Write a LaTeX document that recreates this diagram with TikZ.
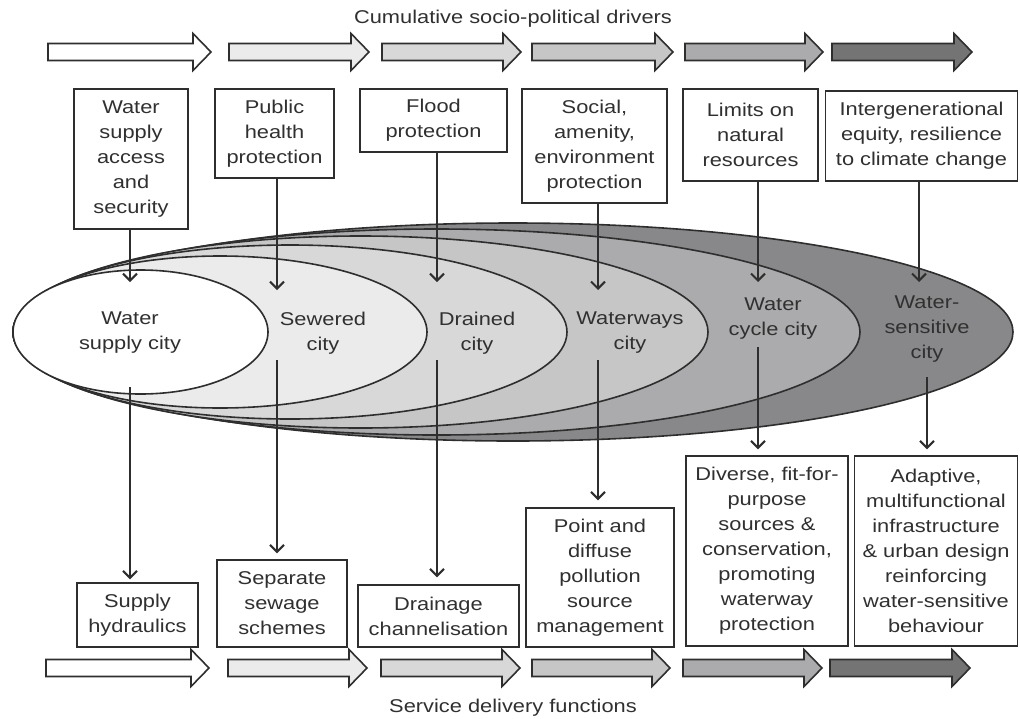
\documentclass[tikz,border=0pt]{standalone}
\usepackage{fontspec}
\setmainfont{Liberation Sans}[FakeStretch=1.18]
\usetikzlibrary{arrows.meta}

\definecolor{ink}{HTML}{2E2E2E}
\definecolor{txt}{HTML}{303030}
% stage shades, lightest to darkest
\definecolor{shA}{HTML}{FFFFFF}
\definecolor{shB}{HTML}{EBEBEB}
\definecolor{shC}{HTML}{D8D8D8}
\definecolor{shD}{HTML}{C6C6C6}
\definecolor{shE}{HTML}{ABABAD}
\definecolor{shF}{HTML}{88888A}
\definecolor{arF}{HTML}{747474}

% block arrow: x start, x tip, y centre, fill colour
\newcommand\flowarrow[4]{%
  \filldraw[blk, fill=#4] (#1,#3-8.5) -- (#2-18,#3-8.5) -- (#2-18,#3-18.5)
    -- (#2,#3) -- (#2-18,#3+18.5) -- (#2-18,#3+8.5) -- (#1,#3+8.5) -- cycle;}

\begin{document}
\begin{tikzpicture}[x=1pt, y=-1pt,
  font=\fontsize{18.5}{25}\selectfont,
  blk/.style={draw=ink, line width=1.6pt, line join=miter},
  box/.style={draw=ink, line width=1.4pt, fill=white, align=center,
    inner sep=0pt, text=txt},
  lbl/.style={align=center, inner sep=0pt, text=txt},
  city/.style={draw=ink, line width=1.6pt},
  conn/.style={draw=ink, line width=2pt,
    -{Straight Barb[length=7pt,width=14pt]}}]
\useasboundingbox (0,0) rectangle (1020,718);

% titles
\node[lbl, anchor=base] (drivers) at (513,23) {Cumulative socio-political drivers};
\node[lbl, anchor=base] (functions) at (513,712) {Service delivery functions};

% driver arrows (top row)
\flowarrow{48}{211}{52}{shA}
\flowarrow{229}{369}{52}{shB}
\flowarrow{382}{521}{52}{shC}
\flowarrow{532}{673}{52}{shD}
\flowarrow{685}{823}{52}{shE}
\flowarrow{832}{972}{52}{arF}

% function arrows (bottom row)
\flowarrow{46}{209}{668}{shA}
\flowarrow{228}{367}{668}{shB}
\flowarrow{381}{520}{668}{shC}
\flowarrow{532}{670}{668}{shD}
\flowarrow{683}{822}{668}{shE}
\flowarrow{830}{970}{668}{arF}

% nested city stages, outermost first
\filldraw[city, fill=shF] (513,332)   ellipse [x radius=500,   y radius=109];
\filldraw[city, fill=shE] (436.5,332) ellipse [x radius=423.5, y radius=103];
\filldraw[city, fill=shD] (360.5,332) ellipse [x radius=347.5, y radius=96];
\filldraw[city, fill=shC] (290,332)   ellipse [x radius=277,   y radius=87];
\filldraw[city, fill=shB] (220,332)   ellipse [x radius=207,   y radius=76];
\filldraw[city, fill=shA] (140.5,332) ellipse [x radius=127.5, y radius=62];

% city labels
\node[lbl] (c1) at (130,333) {Water\\supply city};
\node[lbl] (c2) at (323,333) {Sewered\\city};
\node[lbl] (c3) at (477,333) {Drained\\city};
\node[lbl] (c4) at (630,333) {Waterways\\city};
\node[lbl] (c5) at (773,319) {Water\\cycle city};
\node[lbl] (c6) at (927,329.5) {Water-\\sensitive\\city};

% driver boxes
\node[box, minimum width=114pt, minimum height=140pt] (d1) at (131,159)
  {Water\\supply\\access\\and\\security};
\node[box, minimum width=119pt, minimum height=89pt] (d2) at (274.5,133.5)
  {Public\\health\\protection};
\node[box, minimum width=147pt, minimum height=63pt] (d3) at (433.5,120.5)
  {Flood\\protection};
\node[box, minimum width=145pt, minimum height=114pt] (d4) at (594.5,146)
  {Social,\\amenity,\\environment\\protection};
\node[box, minimum width=135pt, minimum height=92pt] (d5) at (750.5,135)
  {Limits on\\natural\\resources};
\node[box, minimum width=192pt, minimum height=90pt] (d6) at (921.5,136)
  {Intergenerational\\equity, resilience\\to climate change};

% function boxes
\node[box, minimum width=121pt, minimum height=64pt] (f1) at (137.5,615)
  {Supply\\hydraulics};
\node[box, minimum width=130pt, minimum height=87pt] (f2) at (282,603.5)
  {Separate\\sewage\\schemes};
\node[box, minimum width=161pt, minimum height=62pt] (f3) at (438.5,616)
  {Drainage\\channelisation};
\node[box, minimum width=148pt, minimum height=139pt] (f4) at (600,577.5)
  {Point and\\diffuse\\pollution\\source\\management};
\node[box, minimum width=162pt, minimum height=190pt] (f5) at (767,551)
  {Diverse, fit-for-\\purpose\\sources \&\\conservation,\\promoting\\waterway\\protection};
\node[box, minimum width=163pt, minimum height=190pt] (f6) at (936,551)
  {Adaptive,\\multifunctional\\infrastructure\\\& urban design\\reinforcing\\water-sensitive\\behaviour};

% where driver arrows land inside the stages
\coordinate (t1) at (130,282);
\coordinate (t2) at (277,290);
\coordinate (t3) at (437,282);
\coordinate (t4) at (598,290);
\coordinate (t5) at (758,282);
\coordinate (t6) at (919,282);

% where function arrows leave the stages
\coordinate (s1) at (130,387);
\coordinate (s2) at (277,360);
\coordinate (s3) at (437,360);
\coordinate (s4) at (598,360);
\coordinate (s5) at (758,347);
\coordinate (s6) at (927,377);

% drivers into stages
\foreach \i in {1,...,6}
  \draw[conn] (d\i.south -| t\i) -- (t\i);

% stages into functions
\draw[conn, shorten >=3pt] (s1) -- (s1 |- f1.north);
\draw[conn, shorten >=6pt] (s2) -- (s2 |- f2.north);
\draw[conn, shorten >=7pt] (s3) -- (s3 |- f3.north);
\draw[conn, shorten >=7pt] (s4) -- (s4 |- f4.north);
\draw[conn, shorten >=6pt] (s5) -- (s5 |- f5.north);
\draw[conn, shorten >=6pt] (s6) -- (s6 |- f6.north);
\end{tikzpicture}
\end{document}
